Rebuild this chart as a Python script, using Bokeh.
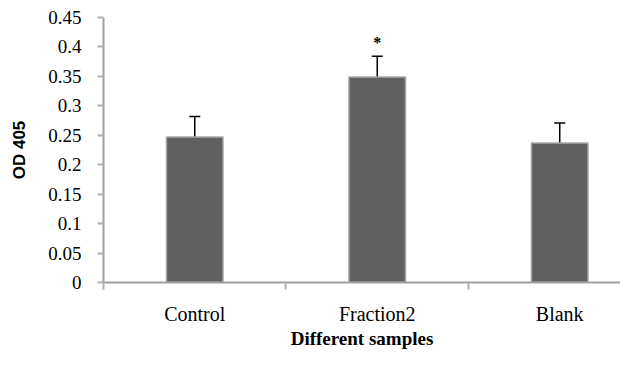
from bokeh.plotting import figure
from bokeh.models import ColumnDataSource, FixedTicker, Whisker, TeeHead, Range1d
from bokeh.core.properties import value
from bokeh.embed import file_html
from bokeh.resources import INLINE

# ---- data ----
categories = ["Control", "Fraction2", "Blank"]
od_values = [0.247, 0.349, 0.237]
od_errors = [0.035, 0.035, 0.034]
significance = ["", "*", ""]
y_ticks = [0, 0.05, 0.1, 0.15, 0.2, 0.25, 0.3, 0.35, 0.4, 0.45]
y_tick_labels = ["0", "0.05", "0.1", "0.15", "0.2", "0.25", "0.3", "0.35", "0.4", "0.45"]
x_title = "Different samples"
y_title = "OD 405"

centers = [i + 0.5 for i in range(len(categories))]
boundaries = [float(i) for i in range(len(categories) + 1)]

src = ColumnDataSource(dict(
    x=centers,
    top=od_values,
    upper=[v + e for v, e in zip(od_values, od_errors)],
    lower=[v - e for v, e in zip(od_values, od_errors)],
    sig=significance,
))

p = figure(width=620, height=351, output_backend="svg", toolbar_location=None,
           x_range=Range1d(0, 2.833), y_range=Range1d(0, 0.45),
           min_border_left=103, min_border_right=0, min_border_top=17, min_border_bottom=69)
p.outline_line_color = None
p.grid.grid_line_color = None
p.background_fill_color = "white"
p.border_fill_color = "white"

p.vbar(x="x", top="top", width=0.31, source=src,
       fill_color="#606060", line_color="#a8a8a8", line_width=1.5)

w = Whisker(base="x", upper="upper", lower="lower", source=src,
            line_color="black", line_width=1.5,
            upper_head=TeeHead(size=11, line_color="black", line_width=1.5),
            lower_head=TeeHead(size=11, line_color="black", line_width=1.5))
p.add_layout(w)

p.text(x="x", y="upper", text="sig", source=src, text_align="center",
       text_baseline="middle", y_offset=-14, text_font=value("Liberation Serif"),
       text_font_size="16px", text_font_style="bold", text_color="black")

# y axis
ya = p.yaxis[0]
ya.ticker = FixedTicker(ticks=y_ticks, minor_ticks=[])
ya.major_label_overrides = {t: l for t, l in zip(y_ticks, y_tick_labels)}
ya.axis_line_color = "#a0a0a0"
ya.axis_line_width = 2
ya.major_tick_line_color = "#b0b0b0"
ya.major_tick_line_width = 2
ya.major_tick_out = 6
ya.major_tick_in = 0
ya.major_label_standoff = 16
ya.major_label_text_font = "Liberation Serif"
ya.major_label_text_font_size = "19px"
ya.major_label_text_color = "black"
ya.axis_label = y_title
ya.axis_label_text_font = "Liberation Sans"
ya.axis_label_text_font_style = "bold"
ya.axis_label_text_font_size = "17px"
ya.axis_label_text_color = "black"
ya.axis_label_standoff = 16

# x axis
xa = p.xaxis[0]
xa.ticker = FixedTicker(ticks=centers, minor_ticks=boundaries)
xa.major_label_overrides = {c: n for c, n in zip(centers, categories)}
xa.axis_line_color = "#a0a0a0"
xa.axis_line_width = 2
xa.major_tick_line_color = None
xa.major_tick_out = 0
xa.major_tick_in = 0
xa.minor_tick_line_color = "#b0b0b0"
xa.minor_tick_line_width = 2
xa.minor_tick_out = 7
xa.minor_tick_in = 0
xa.major_label_standoff = 13
xa.major_label_text_font = "Liberation Serif"
xa.major_label_text_font_size = "20px"
xa.major_label_text_color = "black"
xa.axis_label = x_title
xa.axis_label_text_font = "Liberation Serif"
xa.axis_label_text_font_style = "bold"
xa.axis_label_text_font_size = "19px"
xa.axis_label_text_color = "black"
xa.axis_label_standoff = 0

open("out.html", "w").write(file_html(p, INLINE))
